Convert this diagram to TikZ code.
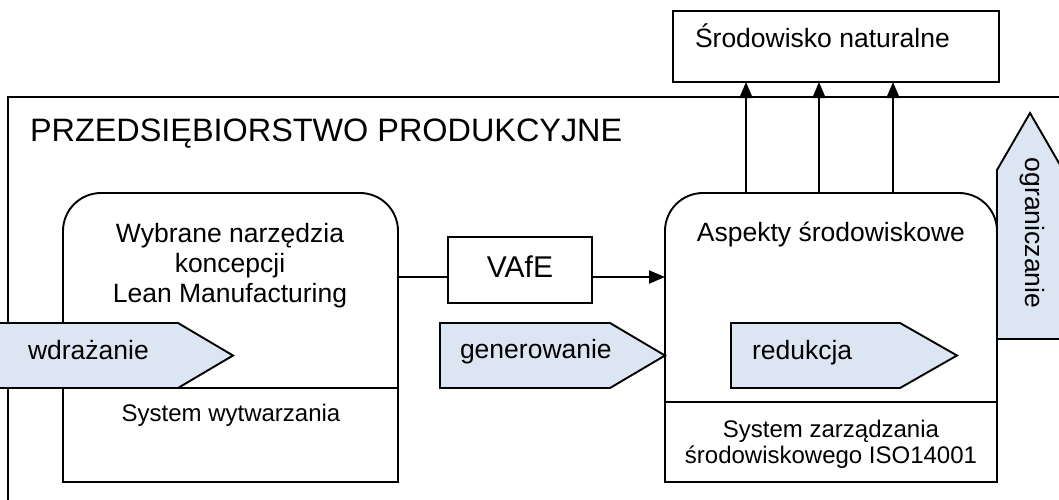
\documentclass[tikz,border=0pt]{standalone}
\usepackage{fontspec}
\setmainfont{Liberation Sans}
\usetikzlibrary{arrows.meta}
\definecolor{sigblue}{RGB}{220,230,242}
\begin{document}
\begin{tikzpicture}[x=1pt,y=-1pt,
  every node/.style={inner sep=0pt,outer sep=0pt},
  ln/.style={line width=1.9pt,draw=black},
  plainbox/.style={ln,fill=white,anchor=north west},
  roundbox/.style={ln,fill=white,anchor=north west,rounded corners=38pt},
  sig/.style={ln,fill=sigblue,line join=miter},
  txt/.style={font=\fontsize{26.5}{30}\selectfont},
  smalltxt/.style={font=\fontsize{24}{27}\selectfont},
  arr/.style={ln,-{Triangle[length=16pt,width=13pt]}},
]
\useasboundingbox (0,0) rectangle (1059,499);
\clip (0,0) rectangle (1059,499);
% enterprise frame
\draw[ln] (8,97) rectangle (1080,520);
% boxes
\node[plainbox,minimum width=326pt,minimum height=71pt] (env) at (673,11) {};
\node[roundbox,minimum width=335pt,minimum height=289pt] (lean) at (63,193) {};
\node[plainbox,minimum width=335pt,minimum height=94pt] (sysw) at (63,388) {};
\node[roundbox,minimum width=332pt,minimum height=289pt] (asp) at (665,193) {};
\node[plainbox,minimum width=332pt,minimum height=80pt] (iso) at (665,402) {};
\node[plainbox,minimum width=144pt,minimum height=66pt] (vafe) at (448,237) {};
% signal shapes
\draw[sig] (-10,323) -- (178,323) -- (233,355.5) -- (178,388) -- (-10,388) -- cycle;
\draw[sig] (440,323) -- (610,323) -- (665,355.5) -- (610,388) -- (440,388) -- cycle;
\draw[sig] (731,323) -- (900,323) -- (957,355.5) -- (900,388) -- (731,388) -- cycle;
\draw[sig] (997,339) -- (997,170) -- (1030,113) -- (1063,170) -- (1063,339) -- cycle;
% connectors
\coordinate (ay) at (0,277);
\draw[ln] (lean.east |- ay) -- (vafe.west |- ay);
\draw[arr] (vafe.east |- ay) -- (asp.west |- ay);
\foreach \xx in {746,819,893}{
  \coordinate (c\xx) at (\xx,0);
  \draw[arr] (asp.north -| c\xx) -- (env.south -| c\xx);
}
% texts
\node[anchor=base west,font=\fontsize{32.4}{36}\selectfont] (title) at (30,141) {PRZEDSIĘBIORSTWO PRODUKCYJNE};
\node[txt,anchor=base west] (envt) at (695,47) {Środowisko naturalne};
\node[txt,anchor=base] (l1) at (230,242) {Wybrane narzędzia};
\node[txt,anchor=base] (l2) at (230,272) {koncepcji};
\node[txt,anchor=base] (l3) at (230,302) {Lean Manufacturing};
\node[smalltxt,anchor=base] (swt) at (231,421) {System wytwarzania};
\node[font=\fontsize{30}{33}\selectfont,anchor=base] (vt) at (520,277) {VAfE};
\node[txt,anchor=base west] (wd) at (28,359) {wdrażanie};
\node[txt,anchor=base west] (gen) at (460,358) {generowanie};
\node[txt,anchor=base west] (red) at (752,359) {redukcja};
\node[txt,anchor=base] (aspt) at (831,241) {Aspekty środowiskowe};
\node[smalltxt,anchor=base] (iso1) at (831,437) {System zarządzania};
\node[smalltxt,anchor=base] (iso2) at (831,463) {środowiskowego ISO14001};
\node[txt,anchor=base,rotate=-90] (ogr) at (1025,233) {ograniczanie};
\end{tikzpicture}
\end{document}
